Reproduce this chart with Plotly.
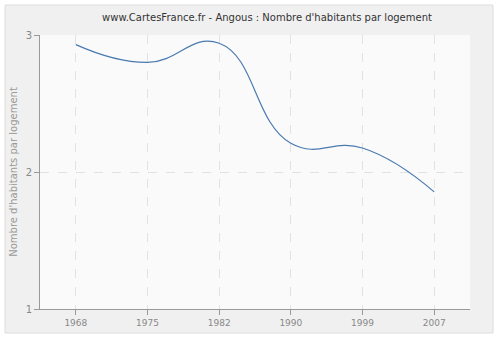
import plotly.graph_objects as go

years = ["1968", "1975", "1982", "1990", "1999", "2007"]
values = [2.93, 2.80, 2.94, 2.21, 2.175, 1.855]
y_ticks = [1, 2, 3]

fig = go.Figure()
fig.add_trace(go.Scatter(
    x=years, y=values, mode="lines",
    line=dict(color="#4a7ab0", width=1.2, shape="spline", smoothing=1.3),
    hoverinfo="skip", showlegend=False,
))

fig.add_shape(type="rect", xref="paper", yref="paper",
              x0=(5 - 40) / 430, x1=(493 - 40) / 430,
              y0=(309 - 333) / 274, y1=(309 - 5) / 274,
              fillcolor="#f0f0f0", line=dict(color="#dddddd", width=1), layer="below")
fig.add_shape(type="rect", xref="paper", yref="paper",
              x0=0, x1=1, y0=0, y1=1,
              fillcolor="#fafafa", line=dict(width=0), layer="below")

fig.update_layout(
    width=500, height=340,
    margin=dict(l=40, r=30, t=35, b=31, autoexpand=False),
    paper_bgcolor="white",
    plot_bgcolor="#fafafa",
    font=dict(family="DejaVu Sans", size=9, color="#888888"),
    title=dict(text="www.CartesFrance.fr - Angous : Nombre d'habitants par logement",
               x=0.534, xref="container", xanchor="center", y=1 - 17 / 340, yanchor="middle",
               font=dict(family="DejaVu Sans", size=10, color="#333333")),
    xaxis=dict(type="category", range=[-0.5, 5.5], showgrid=True, gridcolor="#e2e2e2",
               griddash="dash", gridwidth=1, automargin=False,
               showline=True, linecolor="#999999", linewidth=1,
               ticks="outside", ticklen=5, tickcolor="#999999",
               tickfont=dict(size=9, color="#888888"), zeroline=False, fixedrange=True),
    yaxis=dict(range=[1, 3], tickvals=y_ticks, ticktext=[str(v) for v in y_ticks],
               showgrid=True, gridcolor="#e2e2e2", griddash="dash", gridwidth=1,
               showline=True, linecolor="#999999", linewidth=1, automargin=False,
               ticks="outside", ticklen=5, tickcolor="#999999",
               tickfont=dict(size=10, color="#888888"), zeroline=False, fixedrange=True,
               title=dict(text="Nombre d'habitants par logement", standoff=6,
                          font=dict(size=10, color="#999999"))),
)

fig.write_html("out.html", config={"displayModeBar": False, "staticPlot": True},
               post_script="document.body.style.margin='0';")
